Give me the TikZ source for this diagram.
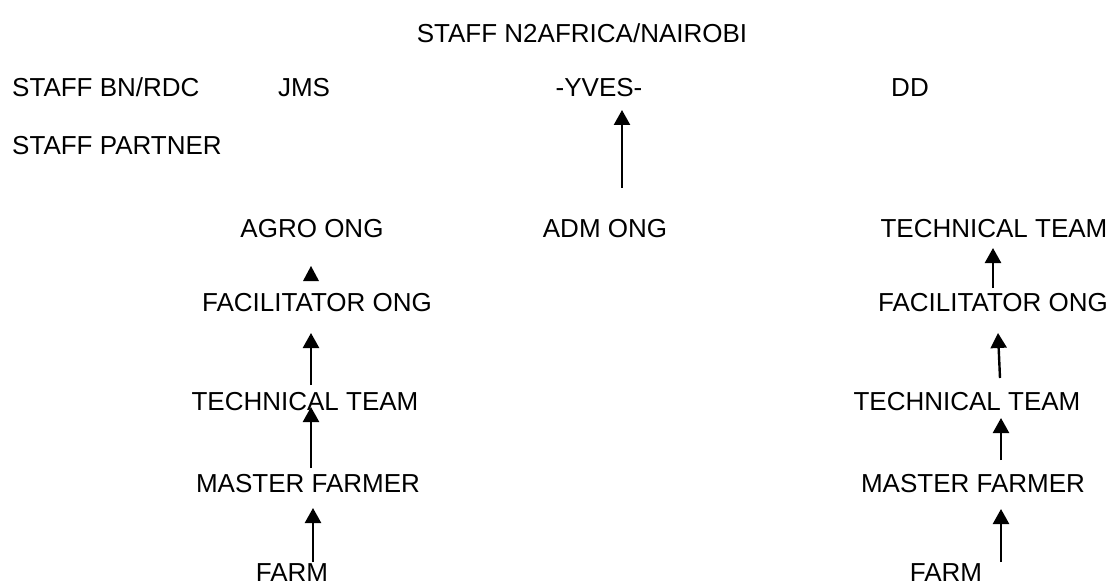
\documentclass[tikz,border=0pt]{standalone}
\usepackage{fontspec}
\setmainfont{Liberation Sans}
\usetikzlibrary{arrows.meta}
\begin{document}
\begin{tikzpicture}[x=1pt,y=-1pt,
  lbl/.style={inner sep=0pt,text height=18.6pt,text depth=0pt,font=\fontsize{26}{30}\selectfont},
  arr/.style={line width=2.4pt,-{Triangle[width=16pt,length=15pt]}}]
\useasboundingbox (0,0) rectangle (1112,583);
% top rows
\node[lbl] (nairobi) at (582,33) {STAFF N2AFRICA/NAIROBI};
\node[lbl,anchor=west] (bnrdc) at (12,87) {STAFF BN/RDC};
\node[lbl] (jms) at (304,87) {JMS};
\node[lbl] (yves) at (599,87) {-YVES-};
\node[lbl] (dd) at (910,87) {DD};
\node[lbl,anchor=west] (partner) at (12,145) {STAFF PARTNER};
% partner row
\node[lbl] (agro) at (312,228) {AGRO ONG};
\node[lbl] (adm) at (605,228) {ADM ONG};
\node[lbl] (tt1) at (994,228) {TECHNICAL TEAM};
% left column
\node[lbl] (facL) at (317,302) {FACILITATOR ONG};
\node[lbl] (ttL) at (305,401) {TECHNICAL TEAM};
\node[lbl] (mfL) at (308,483) {MASTER FARMER};
\node[lbl] (farmL) at (292,572) {FARM};
% right column
\node[lbl] (facR) at (993,302) {FACILITATOR ONG};
\node[lbl] (ttR) at (967,401) {TECHNICAL TEAM};
\node[lbl] (mfR) at (973,483) {MASTER FARMER};
\node[lbl] (farmR) at (946,572) {FARM};
% connector end points
\coordinate (y0) at (622,188); \coordinate (y1) at (622,110);
\coordinate (l1a) at (311,385); \coordinate (l1b) at (311,333);
\coordinate (l2a) at (311,468); \coordinate (l2b) at (311,407);
\coordinate (l3a) at (313,562); \coordinate (l3b) at (313,508);
\coordinate (r0a) at (993,288); \coordinate (r0b) at (993,248);
\coordinate (r1a) at (1000,378); \coordinate (r1b) at (998,333);
\coordinate (r2a) at (1001,460); \coordinate (r2b) at (1001,418);
\coordinate (r3a) at (1001,562); \coordinate (r3b) at (1001,509);
\draw[arr] (y0) -- (y1);
\draw[arr] (l1a) -- (l1b);
\draw[arr] (l2a) -- (l2b);
\draw[arr] (l3a) -- (l3b);
\draw[arr] (r0a) -- (r0b);
\draw[arr] (r1a) -- (r1b);
\draw[arr] (r2a) -- (r2b);
\draw[arr] (r3a) -- (r3b);
% stray arrowhead above FACILITATOR ONG (left)
\fill (303,281) -- (319,281) -- (311,266) -- cycle;
\end{tikzpicture}
\end{document}
